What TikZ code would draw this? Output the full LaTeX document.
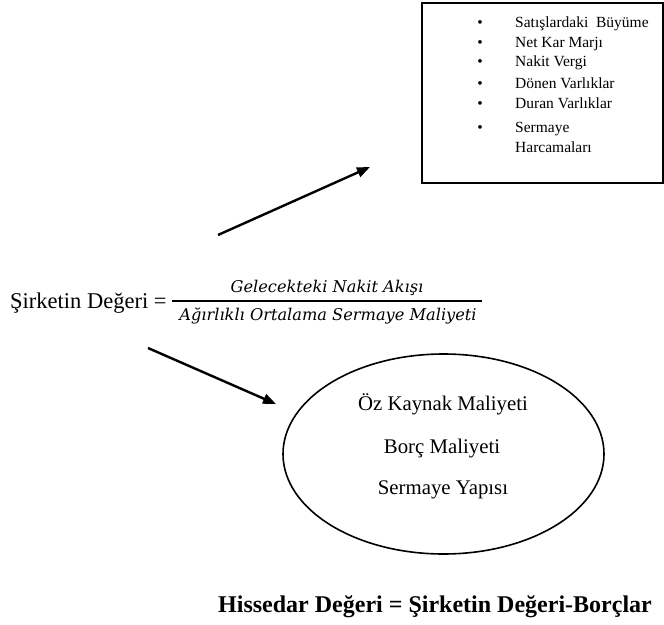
\documentclass[tikz,border=0pt]{standalone}
\usepackage{fontspec}
\setmainfont{Liberation Serif}
\newfontfamily\fracfont{DejaVu Serif}
\usetikzlibrary{arrows.meta,shapes.geometric}
\tikzset{
  arrowline/.style={line width=2.4pt,-{Triangle[length=13pt,width=10pt]}},
  listitem/.style={anchor=base west,inner sep=0pt,font=\fontsize{15.5}{18}\selectfont},
  listdot/.style={anchor=base,inner sep=0pt,font=\fontsize{15.5}{18}\selectfont},
  ovaltext/.style={anchor=base,inner sep=0pt,font=\fontsize{20.8}{24}\selectfont},
  fractext/.style={anchor=base,inner sep=0pt,font=\fracfont\itshape\fontsize{16.2}{19}\selectfont},
}
\begin{document}
\begin{tikzpicture}[x=1pt,y=-1pt]
\useasboundingbox (0,0) rectangle (664,624);

% driver box
\node[draw,line width=2pt,minimum width=241pt,minimum height=180pt,inner sep=0pt,anchor=north west] (drivers) at (421,2) {};
\foreach \y/\t [count=\i] in {27/{Satışlardaki\ \ Büyüme},47/{Net Kar Marjı},66/{Nakit Vergi},88/{Dönen Varlıklar},108/{Duran Varlıklar},132/{Sermaye}}{
  \node[listdot] (dot\i) at (480,\y) {\textbullet};
  \node[listitem] (item\i) at (515,\y) {\t};
}
\node[listitem] (item7) at (515,152) {Harcamaları};

% valuation formula
\node[anchor=base west,inner sep=0pt,font=\fontsize{22.5}{26}\selectfont] (lhs) at (10,308) {Şirketin Değeri =};
\node[fractext] (num) at (327,292) {Gelecekteki Nakit Akışı};
\node[fractext] (den) at (328,320) {Ağırlıklı Ortalama Sermaye Maliyeti};
\coordinate (barl) at (172,301);
\coordinate (barr) at (482,301);
\draw[line width=1.2pt] (barl) -- (barr);

% arrows
\coordinate (a1s) at (218,235);
\coordinate (a1e) at (370,167);
\coordinate (a2s) at (148,348);
\coordinate (a2e) at (276,404);
\draw[arrowline] (a1s) -- (a1e);
\draw[arrowline] (a2s) -- (a2e);

% cost of capital oval
\node[draw,ellipse,line width=1.6pt,minimum width=321pt,minimum height=200pt,inner sep=0pt] (costs) at (443.5,454) {};
\node[ovaltext] (c1) at (443,410) {Öz Kaynak Maliyeti};
\node[ovaltext] (c2) at (442,453) {Borç Maliyeti};
\node[ovaltext] (c3) at (443,494) {Sermaye Yapısı};

% shareholder value
\node[anchor=base,inner sep=0pt,font=\bfseries\fontsize{24}{28}\selectfont] (equity) at (435,612) {Hissedar Değeri = Şirketin Değeri-Borçlar};
\end{tikzpicture}
\end{document}
